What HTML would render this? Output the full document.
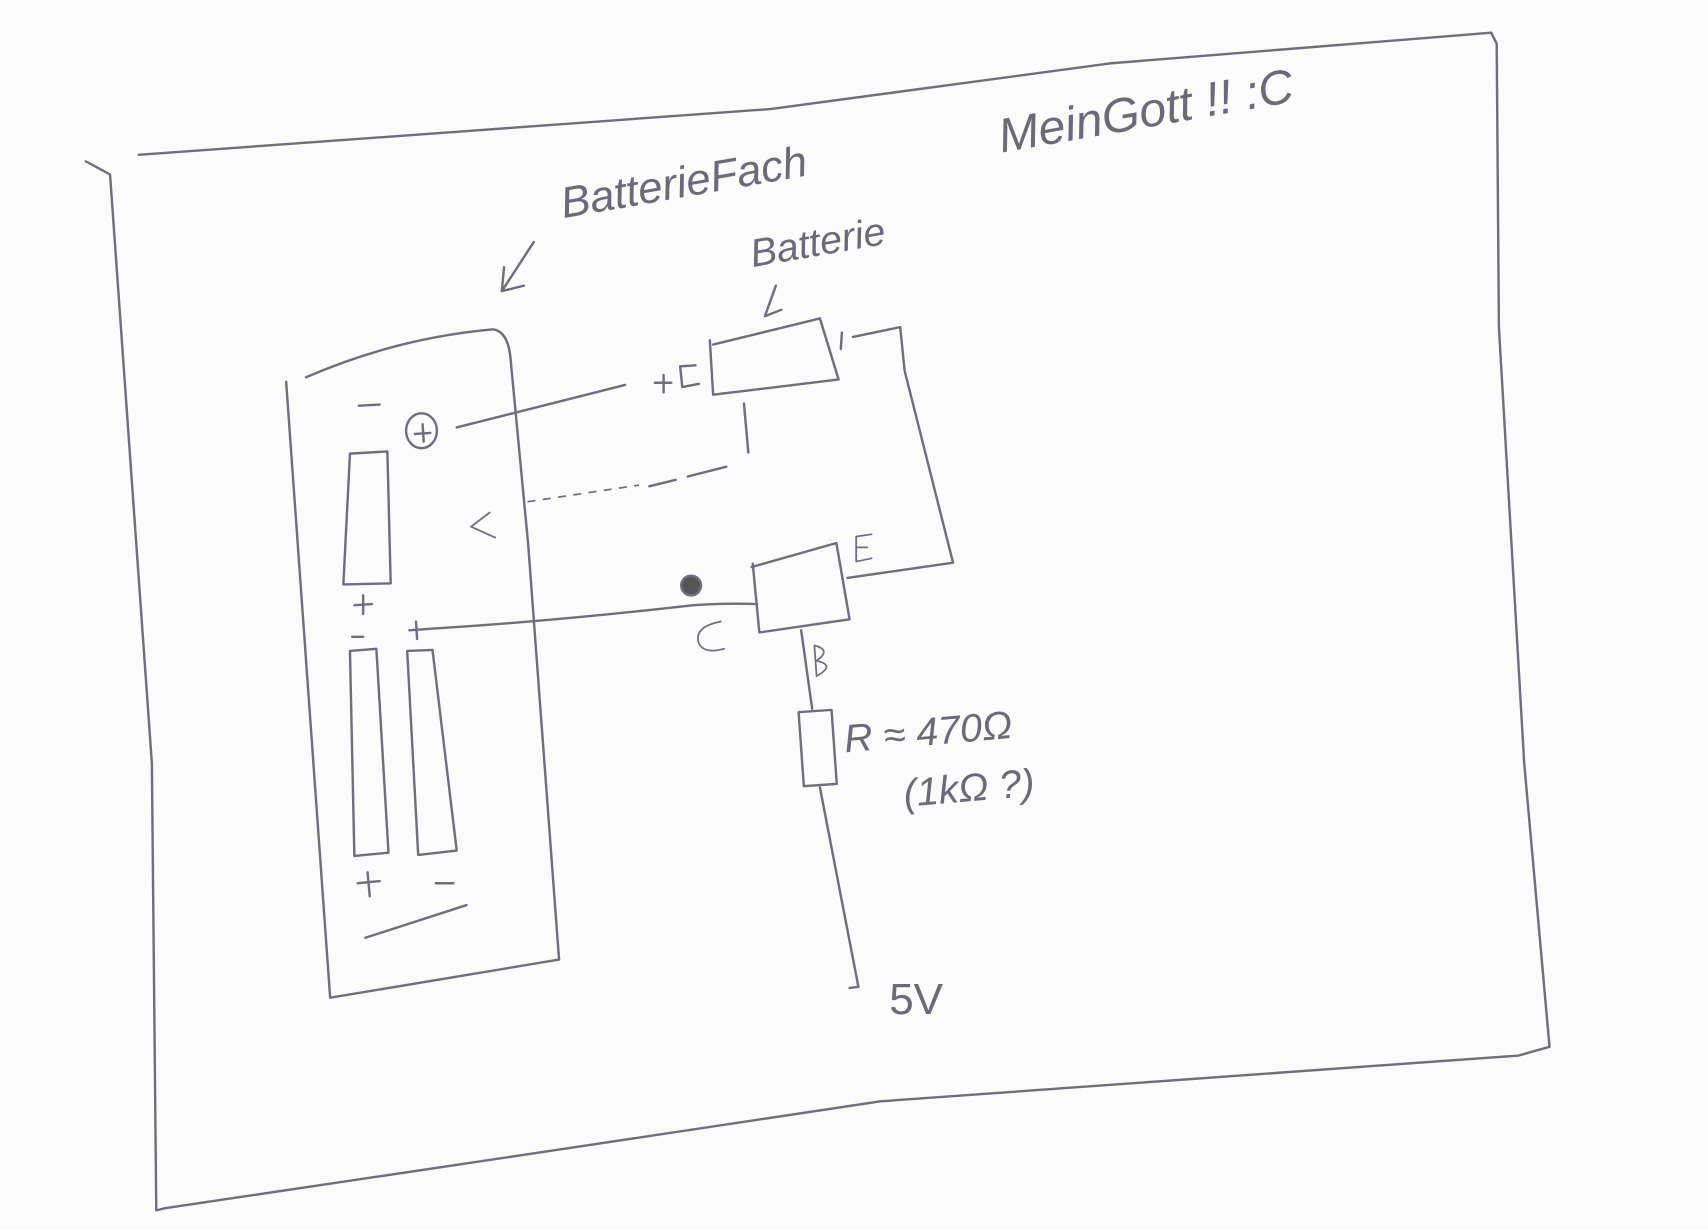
<!DOCTYPE html>
<html><head><meta charset="utf-8"><style>
html,body{margin:0;padding:0;background:#fbfbfc;}
svg{display:block}
text{font-family:"Liberation Sans",sans-serif;fill:#6a6a78;}
</style></head><body>
<svg width="1708" height="1230" viewBox="0 0 1552 1128" preserveAspectRatio="none" xmlns="http://www.w3.org/2000/svg">
<rect width="1552" height="1128" fill="#fbfbfc"/>
<g fill="none" stroke="#6e6e7c" stroke-width="2.2" stroke-linecap="round" stroke-linejoin="round">
<path d="M126 142 L700 100 L1010 58 L1355 30 L1360 40 L1362 300 L1385 700 L1408 960 L1380 968 L800 1010 L470 1060 L150 1108 L142 1110 L138 700 L100 160 L78 148"/>
<path d="M278 346 Q360 310 448 302 Q462 304 464 330 L480 500 L508 880 L300 915 L260 350"/>
<path d="M318 416 L352 414 L355 535 L312 536 Z"/>
<path d="M326 372 L345 371"/>
<path d="M318 597 L342 595 L353 782 L322 785 Z"/>
<path d="M370 597 L393 596 L415 780 L380 784 Z"/>
<path d="M332 860 L424 830"/>
<path d="M325 810 L345 808 M334 800 L336 822"/>
<path d="M396 810 L412 810"/>
<path d="M322 555 L338 554 M330 546 L330 563"/>
<path d="M320 584 L330 584"/>
<path d="M372 578 L386 577 M378 570 L379 586"/>
<ellipse cx="383" cy="395" rx="14" ry="16"/>
<path d="M377 398 L391 397 M384 389 L385 405"/>
<path d="M415 392 Q500 370 568 353"/>
<path d="M595 351 L610 351 M603 344 L603 360"/>
<path d="M632 335 L618 336 L620 355 L635 352"/>
<path d="M645 312 L648 362 L762 348 L745 292 L648 316"/>
<path d="M764 320 L765 305 M775 309 L818 300 L822 340 L866 516 L770 530"/>
<path d="M676 370 L680 415"/>
<path d="M660 428 L625 437 M614 440 L590 446" />
<path d="M480 460 L580 445" stroke-dasharray="6 8" stroke-width="1.6"/>
<path d="M445 470 L428 483 L450 493" stroke-width="1.6"/>
<path d="M683 520 L760 498 L772 568 L690 580 L684 517"/>
<path d="M385 577 Q500 570 630 555 Q660 553 688 554"/>
<path d="M728 578 L738 650"/>
<rect x="728" y="652" width="30" height="68" transform="rotate(-4 743 686)"/>
<path d="M745 722 L780 905 L772 906"/>
<circle cx="628" cy="537" r="9" fill="#555"/>
<path d="M485 222 L456 267 L476 262 M456 267 L458 245"/>
<path d="M705 262 L695 290 L710 284"/>
<path d="M778 492 L778 515 L792 512 M778 502 L788 502 M778 492 L792 490" stroke-width="1.6"/>
<path d="M655 570 Q630 575 635 590 Q640 600 658 595" stroke-width="1.6"/>
<path d="M740 592 L742 620 M740 592 Q756 596 742 606 Q760 610 742 620" stroke-width="1.6"/>
</g>
<g font-size="40" style="font-style:italic">
<text x="512" y="200" transform="rotate(-10 512 200)" font-size="40">BatterieFach</text>
<text x="684" y="245" transform="rotate(-10 684 245)" font-size="36">Batterie</text>
<text x="910" y="140" transform="rotate(-10 910 140)" font-size="44">MeinGott !! :C</text>
<text x="768" y="690" font-size="36" transform="rotate(-5 768 690)">R ≈ 470Ω</text>
<text x="822" y="740" font-size="36" transform="rotate(-5 822 740)">(1kΩ ?)</text>
<text x="808" y="930" font-size="40" style="font-style:normal">5V</text>
</g>
</svg>
</body></html>
